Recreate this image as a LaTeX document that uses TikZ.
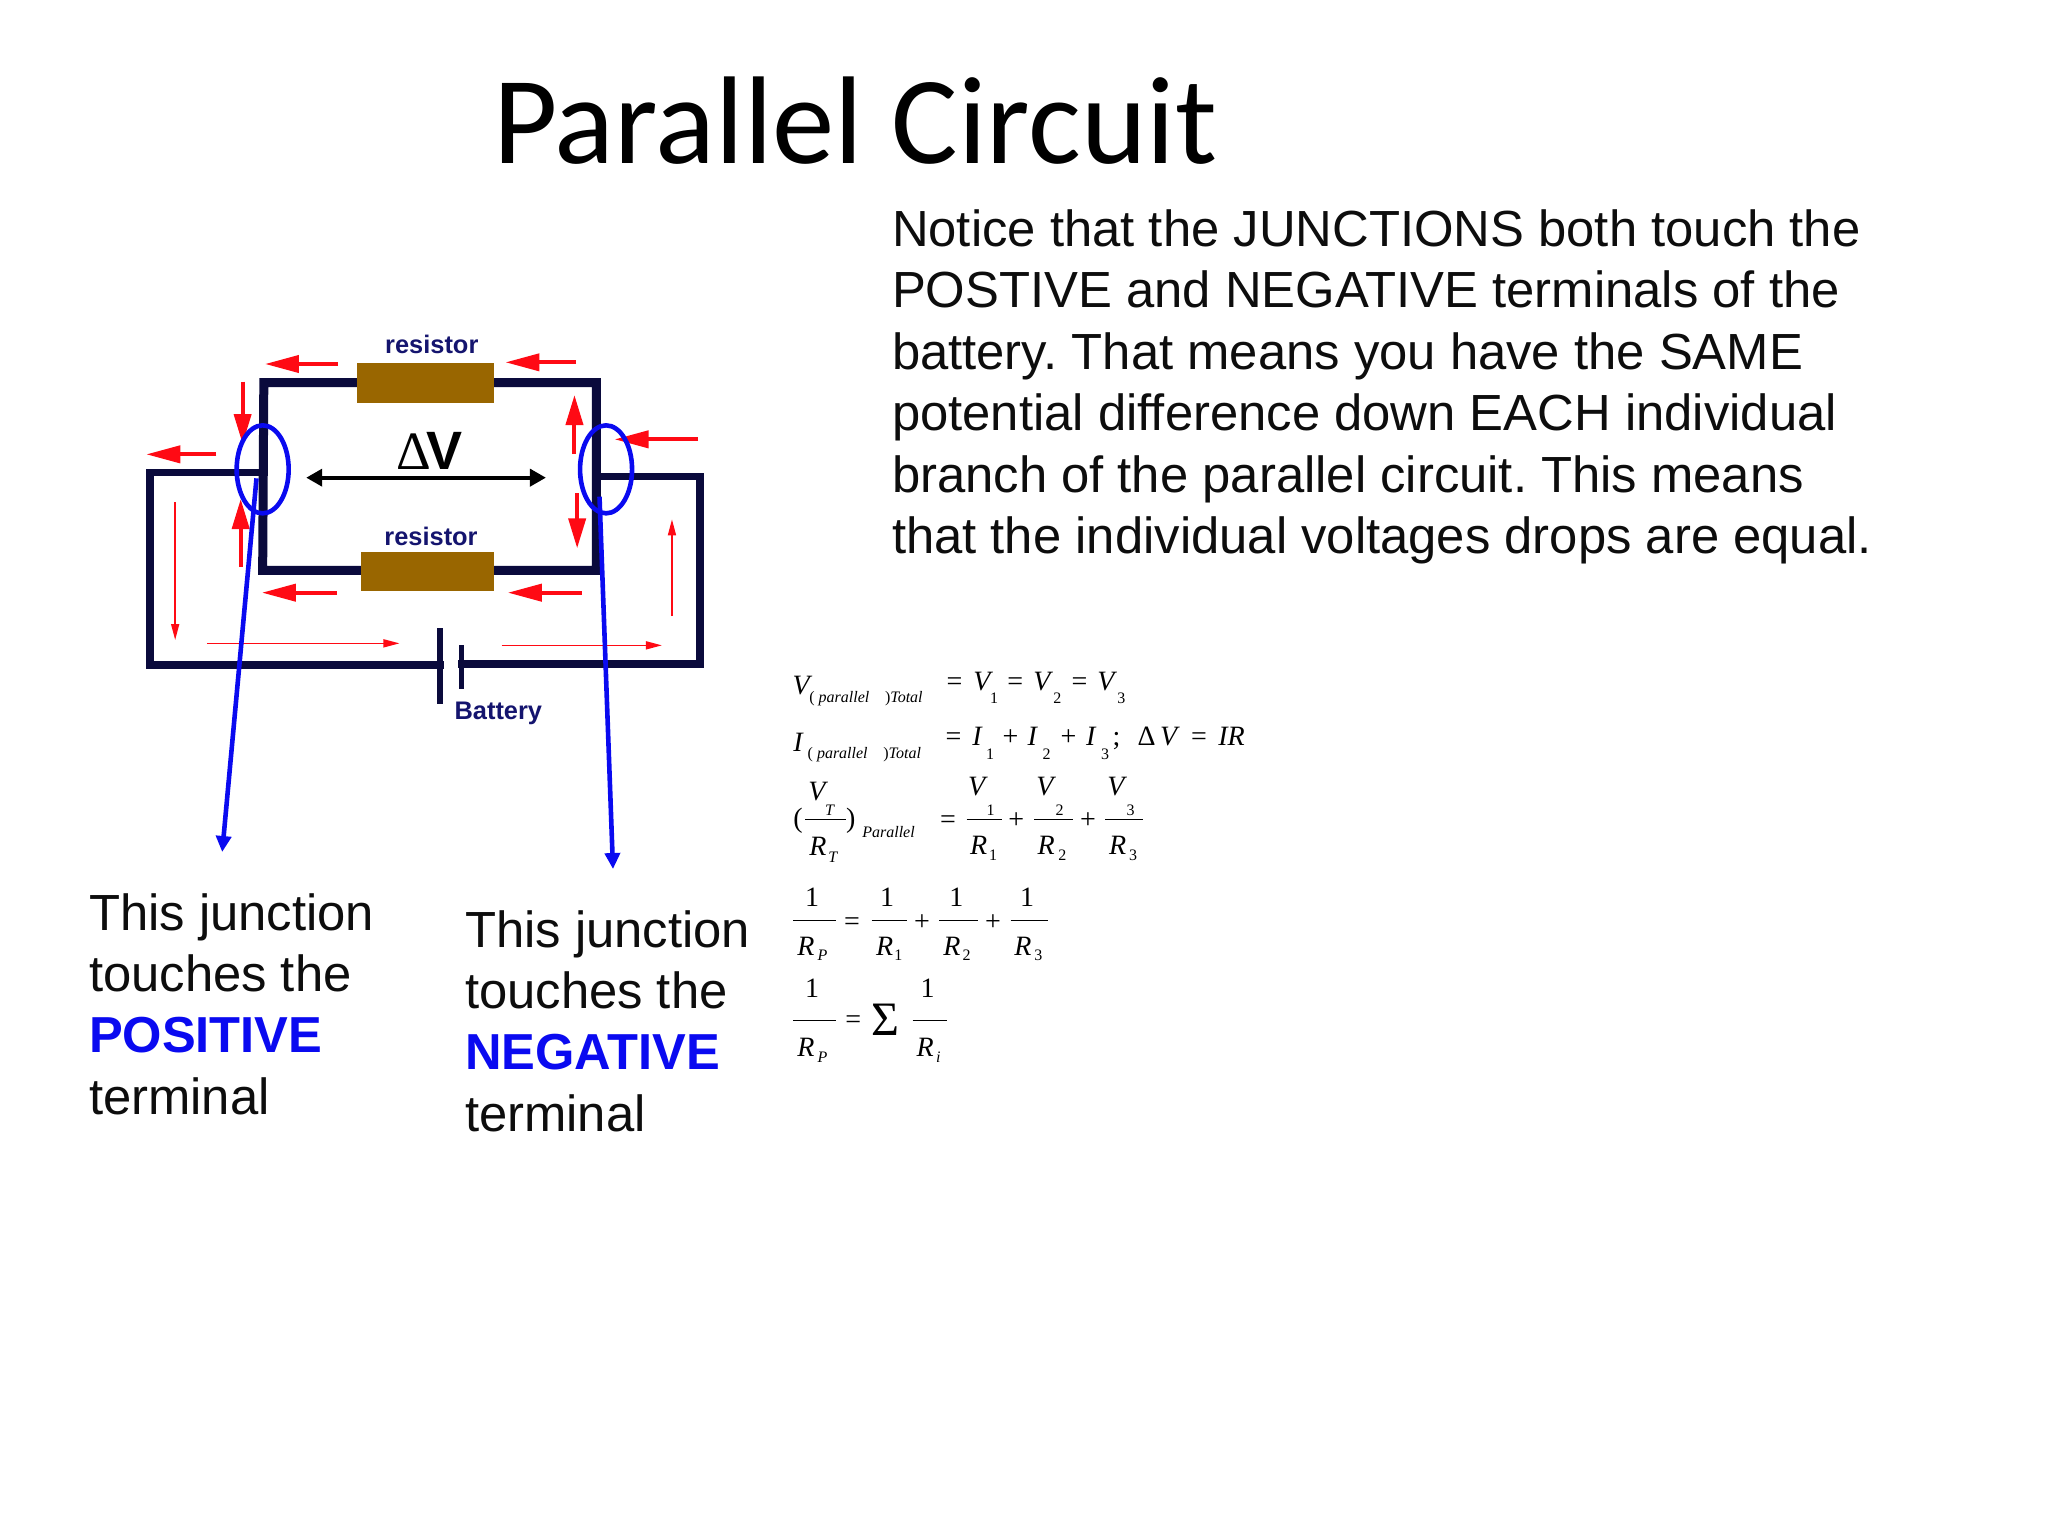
\documentclass[tikz,border=0pt]{standalone}
\usepackage{fontspec}
\setmainfont{Liberation Sans}
\newfontfamily\titlefont{Carlito}
\newfontfamily\eqfont{Liberation Serif}
\usetikzlibrary{arrows.meta,shapes.geometric}
\definecolor{wirenavy}{HTML}{0A0A3C}
\definecolor{labelnavy}{HTML}{14146E}
\definecolor{resbrown}{HTML}{996600}
\definecolor{flowred}{HTML}{FF0A14}
\definecolor{noteblue}{HTML}{0A0AF0}
\frenchspacing
\tikzset{
  txt/.style={inner sep=0pt,outer sep=0pt,anchor=base west},
  titletxt/.style={txt,font=\titlefont\fontsize{62.4}{62.4}\selectfont},
  bodytxt/.style={txt,font=\fontsize{25.4}{25.4}\selectfont,text=black!95},
  boldnote/.style={txt,font=\bfseries\fontsize{25.3}{25.3}\selectfont,text=noteblue},
  notelabel/.style={txt,font=\bfseries\fontsize{12.7}{12.7}\selectfont,text=labelnavy},
  resbox/.style={fill=resbrown,inner sep=0pt,outer sep=0pt,anchor=north west},
  wirein/.style={draw=wirenavy,line width=4.5pt,line cap=rect,line join=miter},
  wireout/.style={draw=wirenavy,line width=3.7pt,line cap=rect,line join=miter},
  plate/.style={draw=wirenavy,line width=2.6pt},
  fatred/.style={draw=flowred,line width=2pt,-{Triangle[length=15pt,width=8.5pt]}},
  fatredh/.style={draw=flowred,line width=2pt,-{Triangle[length=17pt,width=8.5pt]}},
  thinred/.style={draw=flowred,line width=0.8pt,-{Triangle[length=8pt,width=4pt]}},
  ring/.style={draw=noteblue,line width=2.3pt,inner sep=0pt,ellipse,minimum width=26pt,minimum height=44pt},
  pointer/.style={draw=noteblue,line width=2.3pt,-{Triangle[length=8pt,width=7.5pt]}},
  eqb/.style={txt,font=\eqfont\fontsize{14}{14}\selectfont},
  eqi/.style={txt,font=\eqfont\itshape\fontsize{14}{14}\selectfont},
  subr/.style={txt,font=\eqfont\fontsize{8}{8}\selectfont},
  subi/.style={txt,font=\eqfont\itshape\fontsize{8}{8}\selectfont},
  bar/.style={draw=black,line width=0.45pt},
}
\newcommand{\flow}[4]{\coordinate (#1a) at (#3); \coordinate (#1b) at (#4); \draw[#2] (#1a) -- (#1b);}
\begin{document}
\begin{tikzpicture}[x=0.5pt,y=-0.5pt]
\useasboundingbox (0,0) rectangle (2048,1536);
\node[titletxt] (title) at (493,163) {Parallel Circuit};
\node[bodytxt] (b1) at (892,246) {Notice that the JUNCTIONS both touch the};
\node[bodytxt] (b2) at (892,307.5) {POSTIVE and NEGATIVE terminals of the};
\node[bodytxt] (b3) at (892,369) {battery. That means you have the SAME};
\node[bodytxt] (b4) at (892,430.5) {potential difference down EACH individual};
\node[bodytxt] (b5) at (892,492) {branch of the parallel circuit. This means};
\node[bodytxt] (b6) at (892,553.5) {that the individual voltages drops are equal.};
\node[bodytxt] (l1) at (89,930) {This junction};
\node[bodytxt] (l2) at (89,991) {touches the};
\node[boldnote] (l3) at (89,1052) {POSITIVE};
\node[bodytxt] (l4) at (89,1114) {terminal};
\node[bodytxt] (r1) at (465,947) {This junction};
\node[bodytxt] (r2) at (465,1008) {touches the};
\node[boldnote] (r3) at (465,1069) {NEGATIVE};
\node[bodytxt] (r4) at (465,1131) {terminal};

% circuit, in the coordinates of the enlarged crop
\begin{scope}[shift={(127,310)},x=0.1927pt,y=-0.16667pt]
  \coordinate (tl) at (355,218); \coordinate (tr) at (1218,218);
  \coordinate (bl) at (352,781); \coordinate (br) at (1218,781);
  \coordinate (jl) at (352,487); \coordinate (jr) at (1218,500);
  \coordinate (ol) at (60,487); \coordinate (obl) at (60,1065);
  \coordinate (or) at (1487,500); \coordinate (obr) at (1487,1062);
  \coordinate (pa) at (812,955); \coordinate (pb) at (812,1182);
  \coordinate (pc) at (868,1005); \coordinate (pd) at (868,1138);
  \coordinate (pam) at (812,1065); \coordinate (pcm) at (868,1062);
  \draw[wirein] (tl) -- (tr) -- (br) -- (bl) -- cycle;
  \draw[wireout] (jl) -- (ol) -- (obl) -- (pam);
  \draw[wireout] (jr) -- (or) -- (obr) -- (pcm);
  \draw[plate] (pa) -- (pb);
  \draw[plate] (pc) -- (pd);
  \node[resbox,minimum width=68.6pt,minimum height=20pt] (r_top) at (597,158) {};
  \node[resbox,minimum width=66.5pt,minimum height=19.2pt] (r_bot) at (608,727) {};
  \node[notelabel] (rt) at (670,130) {resistor};
  \node[notelabel] (rb) at (668,707) {resistor};
  \node[notelabel] (batt) at (850,1227) {Battery};
  \flow{f1}{fatredh}{548,162}{358,162}
  \flow{f2}{fatredh}{1165,157}{982,157}
  \flow{f3}{fatred}{300,215}{300,402}
  \flow{f4}{fatredh}{232,433}{50,433}
  \flow{f5}{fatred}{295,770}{295,567}
  \flow{f6}{fatred}{1161,432}{1161,255}
  \flow{f7}{fatredh}{1482,388}{1265,388}
  \flow{f8}{fatred}{1168,550}{1168,715}
  \flow{f9}{fatredh}{545,848}{350,848}
  \flow{f10}{fatredh}{1180,848}{988,848}
  \flow{t1}{thinred}{125,577}{125,990}
  \flow{t2}{thinred}{207,1000}{707,1000}
  \flow{t3}{thinred}{972,1006}{1388,1006}
  \flow{t4}{thinred}{1414,918}{1414,628}
  \coordinate (dva) at (465,503); \coordinate (dvb) at (1087,503);
  \draw[black,line width=1.9pt,{Triangle[length=8pt,width=8.5pt]}-{Triangle[length=8pt,width=8.5pt]}] (dva) -- (dvb);
  \node[txt,font=\eqfont\fontsize{27}{27}\selectfont] (dlt) at (698,477) {Δ};
  \node[txt,font=\bfseries\fontsize{27}{27}\selectfont] (dv) at (778,477) {V};
  \node[ring] (ringl) at (352,478) {};
  \node[ring] (ringr) at (1243,478) {};
  \coordinate (pla) at (336,505); \coordinate (plb) at (247,1626);
  \coordinate (pra) at (1226,560); \coordinate (prb) at (1261,1677);
  \draw[pointer] (pla) -- (plb);
  \draw[pointer] (pra) -- (prb);
\end{scope}

% equations, upper part
\begin{scope}[shift={(770,650)},x=0.16667pt,y=-0.16667pt]
  \node[eqi] (a1) at (68,133) {V};
  \node[subi] (a2) at (118,157) {{\upshape(} parallel};
  \node[subi] (a3) at (345,157) {{\upshape)}Total};
  \node[eqb] (a4) at (530,120) {=};
  \node[eqi] (a5) at (610,120) {V};
  \node[subr] (a6) at (660,160) {1};
  \node[eqb] (a7) at (712,120) {=};
  \node[eqi] (a8) at (790,120) {V};
  \node[subr] (a9) at (850,160) {2};
  \node[eqb] (a10) at (905,120) {=};
  \node[eqi] (a11) at (982,120) {V};
  \node[subr] (a12) at (1042,160) {3};

  \node[eqi] (c1) at (70,305) {I};
  \node[subi] (c2) at (113,325) {{\upshape(} parallel};
  \node[subi] (c3) at (340,325) {{\upshape)}Total};
  \node[eqb] (c4) at (527,287) {=};
  \node[eqi] (c5) at (607,287) {I};
  \node[subr] (c6) at (648,327) {1};
  \node[eqb] (c7) at (698,287) {+};
  \node[eqi] (c8) at (773,287) {I};
  \node[subr] (c9) at (818,327) {2};
  \node[eqb] (c10) at (872,287) {+};
  \node[eqi] (c11) at (948,287) {I};
  \node[subr] (c12) at (993,327) {3};
  \node[eqb] (c13) at (1028,287) {;};
  \node[eqb] (c14) at (1103,285) {Δ};
  \node[eqi] (c15) at (1170,285) {V};
  \node[eqb] (c16) at (1263,285) {=};
  \node[eqi] (c17) at (1345,285) {IR};

  \node[eqi] (d1) at (115,452) {V};
  \node[eqb] (d2) at (70,532) {(};
  \node[subi] (d3) at (165,497) {T};
  \draw[bar] (105,508) -- (228,508);
  \node[eqb] (d4) at (228,532) {)};
  \node[eqi] (d5) at (118,615) {R};
  \node[subi] (d6) at (175,637) {T};
  \node[subi] (d7) at (277,562) {Parallel};
  \node[eqb] (d8) at (510,536) {=};
  \node[eqi] (d9) at (594,435) {V};
  \node[subr] (d10) at (650,497) {1};
  \draw[bar] (590,508) -- (695,508);
  \node[eqi] (d11) at (600,612) {R};
  \node[subr] (d12) at (657,632) {1};
  \node[eqb] (d13) at (715,536) {+};
  \node[eqi] (d14) at (799,435) {V};
  \node[subr] (d15) at (857,497) {2};
  \draw[bar] (793,508) -- (908,508);
  \node[eqi] (d16) at (803,612) {R};
  \node[subr] (d17) at (865,632) {2};
  \node[eqb] (d18) at (930,536) {+};
  \node[eqi] (d19) at (1012,435) {V};
  \node[subr] (d20) at (1070,497) {3};
  \draw[bar] (1005,508) -- (1118,508);
  \node[eqi] (d21) at (1017,612) {R};
  \node[subr] (d22) at (1077,632) {3};
\end{scope}

% equations, lower part
\begin{scope}[shift={(770,870)},x=0.16667pt,y=-0.16667pt]
  \node[eqb] (g1) at (105,110) {1};
  \draw[bar] (70,152) -- (197,152);
  \node[eqi] (g2) at (82,255) {R};
  \node[subi] (g3) at (143,272) {P};
  \node[eqb] (g4) at (222,181) {=};
  \node[eqb] (g5) at (330,110) {1};
  \draw[bar] (305,152) -- (410,152);
  \node[eqi] (g6) at (318,255) {R};
  \node[subr] (g7) at (373,272) {1};
  \node[eqb] (g8) at (432,181) {+};
  \node[eqb] (g9) at (538,110) {1};
  \draw[bar] (508,152) -- (623,152);
  \node[eqi] (g10) at (520,255) {R};
  \node[subr] (g11) at (578,272) {2};
  \node[eqb] (g12) at (645,181) {+};
  \node[eqb] (g13) at (750,110) {1};
  \draw[bar] (722,152) -- (833,152);
  \node[eqi] (g14) at (733,255) {R};
  \node[subr] (g15) at (793,272) {3};

  \node[eqb] (h1) at (105,382) {1};
  \draw[bar] (70,452) -- (197,452);
  \node[eqi] (h2) at (82,558) {R};
  \node[subi] (h3) at (143,578) {P};
  \node[eqb] (h4) at (226,476) {=};
  \node[txt,font=\eqfont\fontsize{24}{24}\selectfont] (h5) at (303,497) {Σ};
  \node[eqb] (h6) at (452,382) {1};
  \draw[bar] (428,452) -- (530,452);
  \node[eqi] (h7) at (440,558) {R};
  \node[subi] (h8) at (498,578) {i};
\end{scope}
\end{tikzpicture}
\end{document}
